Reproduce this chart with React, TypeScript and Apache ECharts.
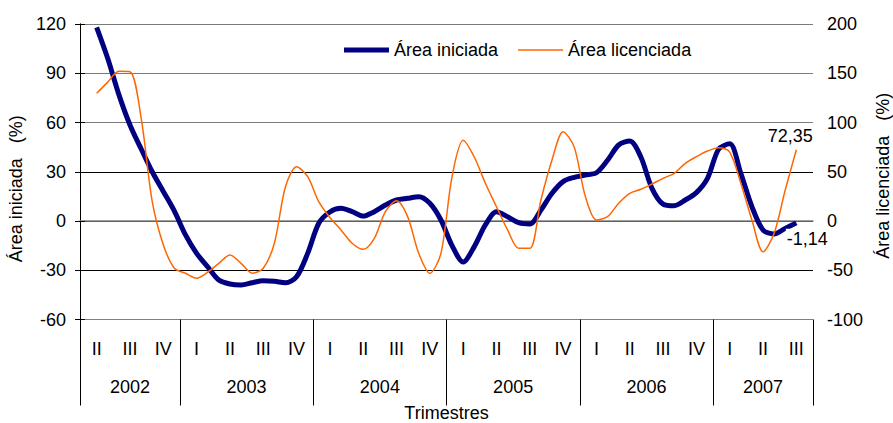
import React, { useEffect, useRef } from "react";
import * as echarts from "echarts";

// Monthly axis (Apr 2002 .. Sep 2007); the data run from May 2002 to Aug 2007
const months = [
  "2002-04","2002-05","2002-06","2002-07","2002-08","2002-09","2002-10","2002-11","2002-12",
  "2003-01","2003-02","2003-03","2003-04","2003-05","2003-06","2003-07","2003-08","2003-09","2003-10","2003-11","2003-12",
  "2004-01","2004-02","2004-03","2004-04","2004-05","2004-06","2004-07","2004-08","2004-09","2004-10","2004-11","2004-12",
  "2005-01","2005-02","2005-03","2005-04","2005-05","2005-06","2005-07","2005-08","2005-09","2005-10","2005-11","2005-12",
  "2006-01","2006-02","2006-03","2006-04","2006-05","2006-06","2006-07","2006-08","2006-09","2006-10","2006-11","2006-12",
  "2007-01","2007-02","2007-03","2007-04","2007-05","2007-06","2007-07","2007-08","2007-09",
];

// Área iniciada (%), May 2002 .. Aug 2007 (left axis)
const areaIniciada = [
  118, 99, 77, 58.5, 44, 30, 18, 6, -8.5, -19.7, -28, -36,
  -38.4, -39, -37.6, -36.4, -36.7, -37.6, -34, -19.7, -1.4, 5.5, 7.7, 5.7,
  3, 5.7, 9.7, 12.8, 13.8, 14.8, 10.8, 0.6, -15, -25, -15.6, -2.4,
  5.7, 2.6, -1, -1.8, 6.7, 16.9, 24, 26.6, 28, 29.4, 37, 46.3,
  48.7, 39, 19.9, 10.3, 9.3, 12.8, 17.3, 26, 43.7, 47, 29, 8.7,
  -5.5, -7.9, -4.5, -1.14,
];

// Área licenciada (%), May 2002 .. Aug 2007 (right axis)
const areaLicenciada = [
  129.6, 141, 152, 151.6, 105, 20, -24, -48, -53, -58, -52, -43,
  -34.5, -43, -53, -48, -22.6, 34.8, 55, 45, 19.6, 3.5, -9.1, -22.6,
  -28.8, -17.6, 9.5, 20.6, 4.4, -32.8, -53, -32.8, 45, 82, 65, 38.3,
  14.5, -9.1, -27.7, -27.7, 21.3, 62, 90.7, 75, 25, 1, 4.4, 18,
  28.1, 32.2, 37.6, 43.3, 48.4, 58.6, 65.3, 71, 74.4, 70, 38.3, 1,
  -31.2, -12.5, 31.5, 72.35,
];

const quarterLabels = [
  "II","III","IV",
  "I","II","III","IV",
  "I","II","III","IV",
  "I","II","III","IV",
  "I","II","III","IV",
  "I","II","III",
];

const years = ["2002", "2003", "2004", "2005", "2006", "2007"];
// year boundaries, counted in quarters from the start of the axis
const yearBounds = [0, 3, 7, 11, 15, 19, 22];

const FONT = '"Liberation Sans", Arial, sans-serif';
const NARROW = '"Liberation Sans Narrow", "Liberation Sans", Arial, sans-serif';
const NB = "\u00a0";

function fmt(v: number) {
  return String(v).replace(".", ",");
}

export default function App() {
  const ref = useRef<HTMLDivElement>(null);

  useEffect(() => {
    if (!ref.current) return;
    const chart = echarts.init(ref.current, undefined, { renderer: "svg" });

    const withEnds = (arr: number[]) => [null, ...arr, null];
    const lastMonth = months[months.length - 2];
    const lastIni = areaIniciada[areaIniciada.length - 1];
    const lastLic = areaLicenciada[areaLicenciada.length - 1];

    const quarterCenters = quarterLabels.map((_, i) => i + 0.5);
    const yearCenters = years.map((_, i) => (yearBounds[i] + yearBounds[i + 1]) / 2);

    const option: any = {
      animation: false,
      backgroundColor: "#ffffff",
      textStyle: { fontFamily: FONT },
      grid: {
        left: 80,
        right: 80,
        top: 24,
        bottom: 103.5,
        containLabel: false,
        outerBoundsMode: "none",
      },
      legend: {
        left: 339,
        top: 36,
        itemWidth: 45,
        itemHeight: 14,
        itemGap: 20,
        textStyle: { fontSize: 18, color: "#000", fontFamily: FONT },
        data: [
          { name: "Área iniciada", icon: "path://M0,0 L45,0 L45,5 L0,5 Z", itemStyle: { color: "#000080", borderWidth: 0 } },
          { name: "Área licenciada", icon: "path://M0,0 L42,0 L42,1.5 L0,1.5 Z", itemStyle: { color: "#FF6600", borderWidth: 0 } },
        ],
      },
      xAxis: [
        {
          type: "category",
          data: months,
          boundaryGap: true,
          position: "bottom",
          axisLine: { show: true, lineStyle: { color: "#808080", width: 1.5 } },
          axisTick: { show: false },
          axisLabel: { show: false },
          splitLine: { show: false },
        },
        {
          type: "value",
          min: 0,
          max: 22,
          position: "bottom",
          axisLine: { show: false },
          axisTick: { show: false },
          splitLine: { show: false },
          axisLabel: {
            customValues: quarterCenters,
            formatter: (v: number) => quarterLabels[Math.floor(v)] || "",
            margin: 20,
            fontSize: 18,
            color: "#000",
            fontFamily: NARROW,
          },
        },
        {
          type: "value",
          min: 0,
          max: 22,
          position: "bottom",
          axisLine: { show: false },
          axisTick: {
            show: true,
            customValues: yearBounds,
            length: 86,
            lineStyle: { color: "#000", width: 1 },
          },
          splitLine: { show: false },
          axisLabel: {
            customValues: yearCenters,
            formatter: (v: number) => {
              const i = yearCenters.indexOf(v);
              return i >= 0 ? years[i] : "";
            },
            margin: 58,
            fontSize: 18,
            color: "#000",
            fontFamily: FONT,
          },
          name: "Trimestres",
          nameLocation: "middle",
          nameGap: 84,
          nameTextStyle: { fontSize: 18, color: "#000", fontFamily: FONT },
        },
      ],
      yAxis: [
        {
          type: "value",
          position: "left",
          min: -60,
          max: 120,
          interval: 30,
          axisLine: { show: true, lineStyle: { color: "#000", width: 1 } },
          axisTick: { show: true, inside: false, length: 5, lineStyle: { color: "#000" } },
          axisLabel: { fontSize: 18, color: "#000", margin: 14, fontFamily: FONT },
          splitLine: {
            show: true,
            lineStyle: {
              color: ["#808080", "#000", "#000", "#000", "#7a7a7a", "#7a7a7a", "#7a7a7a"],
              width: 1,
            },
          },
          name: "Área iniciada" + NB + NB + NB + "(%)",
          nameLocation: "middle",
          nameRotate: 90,
          nameGap: 50,
          nameTextStyle: { fontSize: 18, color: "#000", fontFamily: FONT, padding: [0, 34, 0, 0] },
        },
        {
          type: "value",
          position: "right",
          min: -100,
          max: 200,
          interval: 50,
          axisLine: { show: true, lineStyle: { color: "#000", width: 1 } },
          axisTick: { show: true, inside: false, length: 5, lineStyle: { color: "#000" } },
          axisLabel: { fontSize: 18, color: "#000", margin: 14, fontFamily: FONT },
          splitLine: { show: false },
          name: "Área licenciada" + NB + NB + NB + "(%)",
          nameLocation: "middle",
          nameRotate: 90,
          nameGap: 58,
          nameTextStyle: { fontSize: 18, color: "#000", fontFamily: FONT, padding: [0, 8, 0, 0] },
        },
      ],
      series: [
        {
          name: "Área iniciada",
          type: "line",
          xAxisIndex: 0,
          yAxisIndex: 0,
          smooth: 0.3,
          symbol: "none",
          showSymbol: false,
          lineStyle: { color: "#000080", width: 5 },
          itemStyle: { color: "#000080" },
          data: withEnds(areaIniciada),
          markPoint: {
            symbol: "circle",
            symbolSize: 0,
            silent: true,
            data: [
              {
                coord: [lastMonth, lastIni],
                value: lastIni,
                label: {
                  show: true,
                  position: "bottom",
                  distance: 5,
                  offset: [11, 1],
                  formatter: () => fmt(lastIni),
                  fontSize: 18,
                  color: "#000",
                  fontFamily: FONT,
                  backgroundColor: "#fff",
                  padding: [1, 1, 1, 1],
                },
              },
            ],
          },
          z: 3,
        },
        {
          name: "Área licenciada",
          type: "line",
          xAxisIndex: 0,
          yAxisIndex: 1,
          smooth: 0.3,
          symbol: "none",
          showSymbol: false,
          lineStyle: { color: "#FF6600", width: 1.5 },
          itemStyle: { color: "#FF6600" },
          data: withEnds(areaLicenciada),
          markPoint: {
            symbol: "circle",
            symbolSize: 0,
            silent: true,
            data: [
              {
                coord: [lastMonth, lastLic],
                value: lastLic,
                label: {
                  show: true,
                  position: "top",
                  distance: 5,
                  offset: [-6, 0],
                  formatter: () => fmt(lastLic),
                  fontSize: 18,
                  color: "#000",
                  fontFamily: FONT,
                },
              },
            ],
          },
          z: 4,
        },
      ],
    };

    chart.setOption(option);
    return () => chart.dispose();
  }, []);

  return (
    <div
      ref={ref}
      style={{ position: "fixed", left: 0, top: 0, width: 893, height: 423, background: "#fff" }}
    />
  );
}
